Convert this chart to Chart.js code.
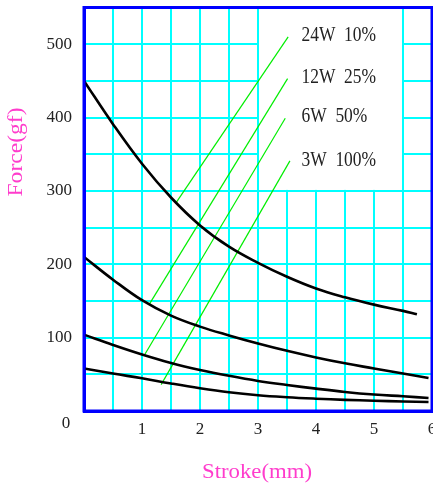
<!DOCTYPE html>
<html>
<head>
<meta charset="utf-8">
<script src="https://cdn.jsdelivr.net/npm/chart.js@4.4.1/dist/chart.umd.min.js"></script>
<style>
  html, body { margin: 0; padding: 0; background: #fff; overflow: hidden; }
  #wrap { width: 440px; height: 484px; position: relative; }
</style>
</head>
<body>
<div id="wrap"><canvas id="forceChart"></canvas></div>
<script>
// ===== DATA =====

// force curves, stroke in mm / force in gf
const strokeA = [0, 0.5, 1, 1.5, 2, 2.5, 3, 3.5, 4, 4.5, 5, 5.5, 5.74];
const forceA  = [450, 391, 337, 291, 253, 224, 202, 183, 167, 155, 145, 136.5, 132];
const strokeB = [0, 0.5, 1, 1.5, 2, 2.5, 3, 3.5, 4, 4.5, 5, 5.5, 5.94];
const forceB  = [210, 179, 151, 130, 115, 103, 92, 82, 73, 65, 58, 51, 45];
const forceC  = [104, 90, 77, 65.5, 56, 48, 41, 35.5, 30.5, 26, 22.5, 20, 17.7];
const forceD  = [58, 51, 44.6, 37.5, 31, 25.5, 21.5, 18.8, 16.8, 15.2, 14, 13, 12.3];

// green marker lines (start -> end), one per power rating
const powers    = ['24W', '12W', '6W', '3W'];
const duties    = ['10%', '25%', '50%', '100%'];
const leadFromX = [1.58, 1.13, 1.04, 1.33];
const leadFromY = [283, 146, 76, 36];
const leadToX   = [3.52, 3.51, 3.47, 3.55];
const leadToY   = [510, 453, 399, 341];
const labelY    = [512, 455, 401, 342];

// axes
const xTickLabels = ['1', '2', '3', '4', '5', '6'];
const yTickLabels = ['100', '200', '300', '400', '500'];
const xTitle = 'Stroke(mm)';
const yTitle = 'Force(gf)';

// ===== helpers =====
const pts = (xs, ys) => xs.map((x, i) => ({ x: x, y: ys[i] }));

// draws text squeezed/stretched horizontally by factor k
function scaledText(ctx, text, x, y, k, align) {
  ctx.save();
  ctx.translate(x, y);
  ctx.scale(k, 1);
  ctx.textAlign = align;
  ctx.fillText(text, 0, 0);
  ctx.restore();
}
const fitK = (ctx, text, width) => width / ctx.measureText(text).width;

const serif = "'Liberation Serif', 'DejaVu Serif', serif";

const curveStyle = {
  borderColor: '#000', borderWidth: 2.6, pointRadius: 0,
  fill: false, tension: 0.4
};

const datasets = [
  Object.assign({ data: pts(strokeA, forceA) }, curveStyle),
  Object.assign({ data: pts(strokeB, forceB) }, curveStyle),
  Object.assign({ data: pts(strokeB, forceC) }, curveStyle),
  Object.assign({ data: pts(strokeB, forceD) }, curveStyle)
];
powers.forEach((p, i) => {
  datasets.push({
    data: [{ x: leadFromX[i], y: leadFromY[i] }, { x: leadToX[i], y: leadToY[i] }],
    borderColor: '#00ee00', borderWidth: 1.2, pointRadius: 0, fill: false, tension: 0
  });
});

// white patch behind the ratings, frame, titles and texts
const extras = {
  id: 'extras',
  beforeDatasetsDraw(chart) {
    const { ctx, scales: { x, y }, chartArea: a } = chart;
    ctx.save();
    ctx.fillStyle = '#fff';
    const l = x.getPixelForValue(3) + 1;
    const r = x.getPixelForValue(5.5) - 1;
    const b = y.getPixelForValue(300) - 1;
    ctx.fillRect(l, a.top, r - l, b - a.top);
    ctx.restore();
  },
  afterDraw(chart) {
    const { ctx, scales: { x, y }, chartArea: a } = chart;
    ctx.save();
    // frame
    ctx.strokeStyle = '#0000ff';
    ctx.lineWidth = 3;
    ctx.strokeRect(a.left, a.top, a.right - a.left, a.bottom - a.top);

    // ratings text
    ctx.fillStyle = '#222';
    ctx.textBaseline = 'middle';
    ctx.font = '21px ' + serif;
    powers.forEach((p, i) => {
      scaledText(ctx, p + '  ' + duties[i], x.getPixelForValue(3.75), y.getPixelForValue(labelY[i]), 0.83, 'left');
    });

    // lone origin label
    ctx.font = '17px ' + serif;
    ctx.textAlign = 'center';
    ctx.fillText('0', a.left - 18, a.bottom + 12.5);

    // axis titles
    ctx.fillStyle = '#ff3ccc';
    ctx.font = '21px ' + serif;
    scaledText(ctx, xTitle, (a.left + a.right) / 2 - 1, a.bottom + 61, fitK(ctx, xTitle, 110), 'center');
    ctx.translate(16, 152);
    ctx.rotate(-Math.PI / 2);
    scaledText(ctx, yTitle, 0, 0, fitK(ctx, yTitle, 89), 'center');
    ctx.restore();
  }
};

new Chart(document.getElementById('forceChart'), {
  type: 'line',
  data: { datasets: datasets },
  options: {
    responsive: true,
    maintainAspectRatio: false,
    animation: false,
    layout: { padding: { top: 7.5, right: 8, left: 0, bottom: 0 } },
    plugins: { legend: { display: false }, tooltip: { enabled: false } },
    scales: {
      x: {
        type: 'linear', min: 0, max: 6,
        afterFit: s => { s.height = 73; s.paddingLeft = 0; s.paddingRight = 0; },
        ticks: {
          stepSize: 0.5, autoSkip: false, maxRotation: 0, padding: 8,
          color: '#222', font: { family: serif, size: 17 },
          callback: v => xTickLabels.includes(String(v)) ? String(v) : ''
        },
        grid: { color: '#00ffff', lineWidth: 2, drawTicks: false },
        border: { color: '#0000ff', width: 3 }
      },
      y: {
        min: 0, max: 550,
        afterFit: s => { s.width = 84; s.paddingTop = 0; s.paddingBottom = 0; },
        ticks: {
          stepSize: 50, autoSkip: false, padding: 12,
          color: '#222', font: { family: serif, size: 17 },
          callback: v => yTickLabels.includes(String(v)) ? String(v) : ''
        },
        grid: { color: '#00ffff', lineWidth: 2, drawTicks: false },
        border: { color: '#0000ff', width: 3 }
      }
    }
  },
  plugins: [extras]
});
</script>
</body>
</html>
